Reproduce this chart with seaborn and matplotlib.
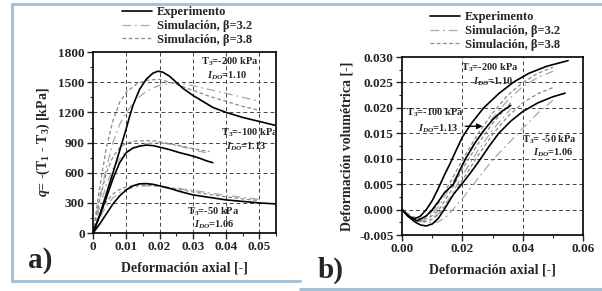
#!/usr/bin/env python

import numpy as np
import matplotlib
matplotlib.use('Agg')
import matplotlib.pyplot as plt
from matplotlib.lines import Line2D
from matplotlib.ticker import MultipleLocator, FormatStrFormatter
import seaborn as sns
import pandas as pd

# ------------------------------------------------------------------
# data a) q vs axial strain
# ------------------------------------------------------------------
q200_exp_x = [0, 0.002, 0.004, 0.006, 0.008, 0.009, 0.010, 0.011, 0.012, 0.014, 0.016, 0.018, 0.0195,
              0.021, 0.023, 0.025, 0.027, 0.030, 0.033, 0.036, 0.040, 0.045, 0.050, 0.055]
q200_exp_y = [0, 180, 390, 600, 820, 930, 1040, 1160, 1270, 1430, 1530, 1590, 1610,
              1600, 1560, 1500, 1440, 1370, 1310, 1250, 1200, 1150, 1110, 1070]
q100_exp_x = [0, 0.002, 0.004, 0.006, 0.008, 0.010, 0.012, 0.014, 0.016, 0.018, 0.020, 0.023, 0.026,
              0.029, 0.032, 0.034, 0.036]
q100_exp_y = [0, 170, 350, 540, 700, 800, 845, 865, 875, 870, 855, 830, 800, 775, 745, 720, 700]
q50_exp_x = [0, 0.002, 0.004, 0.006, 0.008, 0.010, 0.012, 0.014, 0.016, 0.018, 0.020, 0.023, 0.026,
             0.030, 0.035, 0.040, 0.045, 0.050, 0.055]
q50_exp_y = [0, 90, 190, 290, 370, 430, 470, 490, 492, 485, 470, 445, 415, 380, 355, 330, 315, 300, 290]

q200_b38_x = [0, 0.002, 0.004, 0.006, 0.008, 0.010, 0.013, 0.016, 0.020, 0.025, 0.030, 0.035, 0.040, 0.045, 0.050]
q200_b38_y = [0, 450, 850, 1120, 1300, 1400, 1480, 1520, 1530, 1480, 1420, 1360, 1310, 1260, 1220]
q200_b32_x = [0, 0.002, 0.004, 0.006, 0.008, 0.010, 0.013, 0.016, 0.020, 0.024, 0.028, 0.032, 0.036, 0.040, 0.045, 0.050]
q200_b32_y = [0, 350, 650, 900, 1080, 1200, 1330, 1410, 1470, 1495, 1480, 1450, 1420, 1390, 1350, 1310]
q100_b38_x = [0, 0.002, 0.004, 0.006, 0.008, 0.010, 0.013, 0.016, 0.019, 0.022, 0.026, 0.030, 0.035]
q100_b38_y = [0, 330, 600, 760, 850, 895, 915, 920, 915, 895, 870, 840, 810]
q100_b32_x = [0, 0.002, 0.004, 0.006, 0.008, 0.010, 0.013, 0.016, 0.019, 0.022, 0.026, 0.030, 0.035]
q100_b32_y = [0, 260, 480, 640, 740, 810, 865, 890, 900, 890, 865, 830, 790]
q50_b38_x = [0, 0.002, 0.004, 0.006, 0.008, 0.010, 0.013, 0.016, 0.020, 0.025, 0.030, 0.035, 0.040, 0.045, 0.050]
q50_b38_y = [0, 180, 310, 390, 435, 460, 475, 478, 465, 440, 410, 385, 360, 340, 322]
q50_b32_x = [0, 0.002, 0.004, 0.006, 0.008, 0.010, 0.013, 0.016, 0.020, 0.025, 0.030, 0.035, 0.040, 0.045, 0.050]
q50_b32_y = [0, 150, 270, 350, 405, 435, 460, 470, 465, 448, 425, 400, 375, 355, 335]

# ------------------------------------------------------------------
# data b) volumetric strain vs axial strain
# ------------------------------------------------------------------
v200_exp_x = [0, 0.002, 0.004, 0.006, 0.008, 0.010, 0.012, 0.014, 0.016, 0.018, 0.020, 0.023, 0.027,
              0.032, 0.037, 0.042, 0.048, 0.055]
v200_exp_y = [0, -0.0012, -0.0018, -0.0013, 0, 0.0018, 0.0042, 0.0068, 0.0092, 0.0118, 0.0143, 0.0170,
              0.0200, 0.0228, 0.0251, 0.0268, 0.0282, 0.0293]
v100_exp_x = [0, 0.002, 0.005, 0.008, 0.010, 0.012, 0.014, 0.017, 0.019, 0.021, 0.024, 0.027, 0.030, 0.033, 0.036]
v100_exp_y = [0, -0.0013, -0.0022, -0.0012, 0, 0.0016, 0.0033, 0.0050, 0.0076, 0.0100, 0.0130, 0.0155,
              0.0177, 0.0193, 0.0205]
v50_exp_x = [0, 0.002, 0.004, 0.006, 0.008, 0.010, 0.012, 0.014, 0.017, 0.020, 0.023, 0.026, 0.029,
             0.032, 0.036, 0.040, 0.045, 0.050, 0.054]
v50_exp_y = [0, -0.0013, -0.0023, -0.0030, -0.0032, -0.0028, -0.0017, 0.0001, 0.0030, 0.0052, 0.0075,
             0.0100, 0.0126, 0.0150, 0.0174, 0.0193, 0.0210, 0.0222, 0.0229]

v200_b38_x = [0, 0.003, 0.006, 0.009, 0.012, 0.016, 0.020, 0.025, 0.030, 0.035, 0.040, 0.045, 0.050]
v200_b38_y = [0, -0.0013, -0.0018, -0.0010, 0.0012, 0.0055, 0.0098, 0.0148, 0.0190, 0.0225, 0.0250, 0.0268, 0.0280]
v200_b32_x = [0, 0.003, 0.006, 0.009, 0.012, 0.016, 0.020, 0.025, 0.030, 0.035, 0.040, 0.045, 0.050]
v200_b32_y = [0, -0.0013, -0.0020, -0.0014, 0.0005, 0.0045, 0.0088, 0.0138, 0.0180, 0.0215, 0.0242, 0.0260, 0.0272]
v100_b38_x = [0, 0.003, 0.006, 0.009, 0.012, 0.016, 0.020, 0.025, 0.030, 0.036]
v100_b38_y = [0, -0.0014, -0.0021, -0.0016, -0.0002, 0.0035, 0.0080, 0.0128, 0.0170, 0.0210]
v100_b32_x = [0, 0.003, 0.006, 0.009, 0.012, 0.016, 0.020, 0.025, 0.030, 0.036]
v100_b32_y = [0, -0.0014, -0.0023, -0.0020, -0.0008, 0.0025, 0.0068, 0.0115, 0.0157, 0.0198]
v50_b38_x = [0, 0.003, 0.006, 0.009, 0.012, 0.016, 0.020, 0.025, 0.030, 0.035, 0.040, 0.045, 0.050]
v50_b38_y = [0, -0.0015, -0.0024, -0.0022, -0.0010, 0.0020, 0.0058, 0.0105, 0.0148, 0.0183, 0.0210, 0.0228, 0.0240]
v50_b32_x = [0, 0.004, 0.008, 0.012, 0.015, 0.020, 0.025, 0.030, 0.036, 0.040, 0.045, 0.050]
v50_b32_y = [0, -0.0017, -0.0026, -0.0024, -0.0012, 0.0022, 0.0060, 0.0098, 0.0135, 0.0160, 0.0190, 0.0215]

legend_labels = ['Experimento', 'Simulación, β=3.2', 'Simulación, β=3.8']

# ------------------------------------------------------------------
# style
# ------------------------------------------------------------------
sns.set_style('ticks')
plt.rcParams['font.family'] = ['Liberation Serif', 'DejaVu Serif']
plt.rcParams['font.weight'] = 'bold'
plt.rcParams['axes.labelweight'] = 'bold'
plt.rcParams['mathtext.fontset'] = 'custom'
plt.rcParams['mathtext.rm'] = 'Liberation Serif:bold'
plt.rcParams['mathtext.bf'] = 'Liberation Serif:bold'
plt.rcParams['mathtext.it'] = 'Liberation Serif:italic:bold'

exp_style = dict(color='black', linewidth=1.2)
b32_style = dict(color='#a8a8a8', linewidth=0.9, linestyle=(0, (7, 3, 1.5, 3)))
b38_style = dict(color='#8a8a8a', linewidth=0.9, linestyle=(0, (3, 2)))
grid_style = dict(color='#444444', linewidth=0.7, linestyle=(0, (4, 3)), zorder=0)

fig = plt.figure(figsize=(6.02, 2.91), dpi=100)
ax1 = fig.add_axes([0.1545, 0.199, 0.304, 0.622])
ax2 = fig.add_axes([0.668, 0.192, 0.3007, 0.612])


def draw(ax, x, y, style):
	sns.lineplot(x=x, y=y, ax=ax, estimator=None, sort=False, **style)


# ------------------------------------------------------------------
# a)
# ------------------------------------------------------------------
for xx, yy in [(q200_b32_x, q200_b32_y), (q100_b32_x, q100_b32_y), (q50_b32_x, q50_b32_y)]:
	draw(ax1, xx, yy, b32_style)
for xx, yy in [(q200_b38_x, q200_b38_y), (q100_b38_x, q100_b38_y), (q50_b38_x, q50_b38_y)]:
	draw(ax1, xx, yy, b38_style)
for xx, yy in [(q200_exp_x, q200_exp_y), (q100_exp_x, q100_exp_y), (q50_exp_x, q50_exp_y)]:
	draw(ax1, xx, yy, exp_style)

ax1.set_xlim(0, 0.055)
ax1.set_ylim(0, 1800)
ax1.xaxis.set_major_locator(MultipleLocator(0.01))
ax1.xaxis.set_minor_locator(MultipleLocator(0.005))
ax1.yaxis.set_major_locator(MultipleLocator(300))
ax1.yaxis.set_minor_locator(MultipleLocator(150))
ax1.set_xticks([0, 0.01, 0.02, 0.03, 0.04, 0.05])
ax1.set_xticklabels(['0', '0.01', '0.02', '0.03', '0.04', '0.05'])
for v in [0.01, 0.02, 0.03, 0.04, 0.05]:
	ax1.axvline(v, **grid_style)
for v in [300, 600, 900, 1200, 1500]:
	ax1.axhline(v, **grid_style)
ax1.set_xlabel('Deformación axial [-]', fontsize=10, labelpad=6)
ax1.set_ylabel(r'$q$= -(T$_1$ - T$_3$) [kPa]', fontsize=10, labelpad=4)

ann = dict(fontsize=7.5, ha='center', va='center', fontweight='bold')
ax1.text(0.0411, 1700, r'T$_3$=-200 kPa', **ann)
ax1.text(0.0402, 1561, r'$I_{DO}$=1.10', **ann)
ax1.text(0.0470, 995, r'T$_3$=-100 kPa', **ann)
ax1.text(0.0460, 855, r'$I_{DO}$=1.13', **ann)
ax1.text(0.0360, 209, r'T$_3$=-50 kPa', **ann)
ax1.text(0.0366, 80, r'$I_{DO}$=1.06', **ann)

# ------------------------------------------------------------------
# b)
# ------------------------------------------------------------------
for xx, yy in [(v200_b32_x, v200_b32_y), (v100_b32_x, v100_b32_y), (v50_b32_x, v50_b32_y)]:
	draw(ax2, xx, yy, b32_style)
for xx, yy in [(v200_b38_x, v200_b38_y), (v100_b38_x, v100_b38_y), (v50_b38_x, v50_b38_y)]:
	draw(ax2, xx, yy, b38_style)
for xx, yy in [(v200_exp_x, v200_exp_y), (v100_exp_x, v100_exp_y), (v50_exp_x, v50_exp_y)]:
	draw(ax2, xx, yy, exp_style)

ax2.set_xlim(0, 0.06)
ax2.set_ylim(-0.005, 0.030)
ax2.xaxis.set_major_locator(MultipleLocator(0.02))
ax2.xaxis.set_minor_locator(MultipleLocator(0.01))
ax2.yaxis.set_major_locator(MultipleLocator(0.005))
ax2.yaxis.set_minor_locator(MultipleLocator(0.0025))
ax2.xaxis.set_major_formatter(FormatStrFormatter('%.2f'))
ax2.yaxis.set_major_formatter(FormatStrFormatter('%.3f'))
for v in [0.02, 0.04]:
	ax2.axvline(v, **grid_style)
for v in [0.0, 0.005, 0.010, 0.015, 0.020, 0.025]:
	ax2.axhline(v, **grid_style)
ax2.set_xlabel('Deformación axial [-]', fontsize=10, labelpad=6)
ax2.set_ylabel('Deformación volumétrica [-]', fontsize=10, labelpad=4)

ax2.text(0.0292, 0.0278, r'T$_3$=-200 kPa', **ann)
ax2.text(0.0302, 0.0251, r'$I_{DO}$=1.10', **ann)
ax2.text(0.0109, 0.0190, r'T$_3$=-100 kPa', **ann)
ax2.text(0.0119, 0.0160, r'$I_{DO}$=1.13', **ann)
ax2.text(0.0490, 0.0137, r'T$_3$= -50 kPa', **ann)
ax2.text(0.0500, 0.0111, r'$I_{DO}$=1.06', **ann)
ax2.annotate('', xy=(0.0276, 0.0164), xytext=(0.0200, 0.0164),
			 arrowprops=dict(arrowstyle='-|>', color='black', lw=1.0, mutation_scale=8))

# ------------------------------------------------------------------
# shared axis styling + legends
# ------------------------------------------------------------------
handles = [Line2D([], [], **exp_style), Line2D([], [], **b32_style), Line2D([], [], **b38_style)]
for ax, anchor in [(ax1, (0.2027, 0.979)), (ax2, (0.714, 0.962))]:
	for side in ['top', 'right', 'bottom', 'left']:
		ax.spines[side].set_visible(True)
		ax.spines[side].set_linewidth(1.2)
		ax.spines[side].set_color('black')
	ax.tick_params(which='major', direction='out', length=4, width=1.0, labelsize=9.5, pad=2)
	ax.tick_params(which='minor', direction='out', length=2.5, width=0.8)
	for lab in ax.get_xticklabels() + ax.get_yticklabels():
		lab.set_fontweight('bold')
	ax.set_facecolor('white')
	ax.legend(handles, legend_labels, loc='upper left', bbox_to_anchor=anchor,
			  bbox_transform=fig.transFigure, frameon=False, fontsize=9,
			  handlelength=2.4, handletextpad=0.4, labelspacing=0.15,
			  borderpad=0, borderaxespad=0)

fig.text(0.046, 0.06, 'a)', fontsize=21, fontweight='bold', va='bottom')
fig.text(0.528, 0.025, 'b)', fontsize=21, fontweight='bold', va='bottom')

# page frame
frame_col = '#a9c1d4'
fig.add_artist(Line2D([12 / 602, 12 / 602], [1 - 4 / 291, 1 - 281 / 291], color=frame_col, lw=2.2))
fig.add_artist(Line2D([12 / 602, 1.0], [1 - 4 / 291, 1 - 4 / 291], color=frame_col, lw=2.2))
fig.add_artist(Line2D([12 / 602, 300 / 602], [1 - 281 / 291, 1 - 281 / 291], color=frame_col, lw=2.2))
fig.add_artist(Line2D([300 / 602, 1.0], [1 - 289 / 291, 1 - 289 / 291], color=frame_col, lw=2.2))

fig.savefig('out.png', dpi=100)
